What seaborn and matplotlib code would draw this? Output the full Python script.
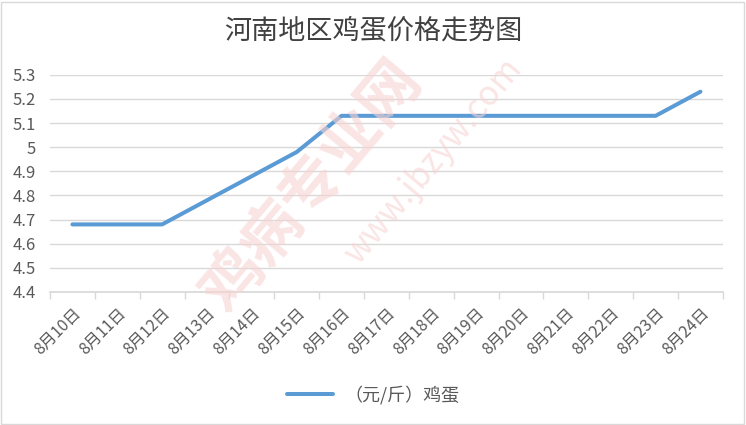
import pandas as pd
import seaborn as sns
import matplotlib.pyplot as plt
from matplotlib.patches import Rectangle

# data
dates = ["8月10日", "8月11日", "8月12日", "8月13日", "8月14日", "8月15日", "8月16日",
         "8月17日", "8月18日", "8月19日", "8月20日", "8月21日", "8月22日", "8月23日", "8月24日"]
prices = [4.68, 4.68, 4.68, 4.78, 4.88, 4.98, 5.13,
          5.13, 5.13, 5.13, 5.13, 5.13, 5.13, 5.13, 5.23]
yticks = [4.4, 4.5, 4.6, 4.7, 4.8, 4.9, 5.0, 5.1, 5.2, 5.3]
ytick_labels = ["4.4", "4.5", "4.6", "4.7", "4.8", "4.9", "5", "5.1", "5.2", "5.3"]

sns.set_theme(style="white")
plt.rcParams['font.family'] = ['Noto Sans CJK SC', 'DejaVu Sans']

df = pd.DataFrame({"date": dates, "price": prices, "pos": range(len(dates))})

fig = plt.figure(figsize=(7.46, 4.25), dpi=100)
ax = fig.add_axes([0.067, 0.313, 0.902, 0.511])

# faint watermark
fig.text(0.42, 0.56, "鸡病专业网", fontsize=44, color="#f7d3d3", rotation=50,
         ha="center", va="center", fontweight="bold", zorder=0, alpha=0.6)
fig.text(0.58, 0.62, "www.jbzyw.com", fontsize=24, color="#f7d3d3", rotation=50,
         ha="center", va="center", zorder=0, alpha=0.6)

sns.lineplot(data=df, x="pos", y="price", ax=ax, color="#5B9BD5", linewidth=2.9,
             label="（元/斤）鸡蛋", sort=False, solid_capstyle="round")

ax.set_xlim(-0.5, len(dates) - 0.5)
ax.set_ylim(4.4, 5.3)
ax.set_yticks(yticks)
ax.set_yticklabels(ytick_labels, color="#595959", fontsize=12)
ax.set_xticks(range(len(dates)))
ax.set_xticklabels(dates, rotation=45, ha="right", rotation_mode="anchor",
                   color="#595959", fontsize=11.5)
ax.set_xticks([i - 0.5 for i in range(len(dates) + 1)], minor=True)
ax.tick_params(axis="x", which="major", length=0, pad=9)
ax.tick_params(axis="x", which="minor", length=5, color="#d9d9d9", width=1, direction="out")
ax.tick_params(axis="x", bottom=True, which="minor")
ax.tick_params(axis="y", length=0, pad=10)
ax.set_xlabel("")
ax.set_ylabel("")
ax.grid(axis="y", color="#d9d9d9", linewidth=1)
ax.set_axisbelow(True)
ax.patch.set_alpha(0)
for side in ["left", "right", "top"]:
    ax.spines[side].set_visible(False)
ax.spines["bottom"].set_color("#d9d9d9")

fig.suptitle("河南地区鸡蛋价格走势图", y=0.96, fontsize=19.5, color="#404040")

leg = ax.legend(loc="center", bbox_to_anchor=(0.5, 0.07), bbox_transform=fig.transFigure,
                frameon=False, fontsize=13, handlelength=2.6, handletextpad=0.6)
for t in leg.get_texts():
    t.set_color("#595959")

fig.patches.append(Rectangle((0.002, 0.003), 0.995, 0.993, transform=fig.transFigure,
                             fill=False, edgecolor="#d9d9d9", linewidth=1))

fig.savefig("out.png", dpi=100)
